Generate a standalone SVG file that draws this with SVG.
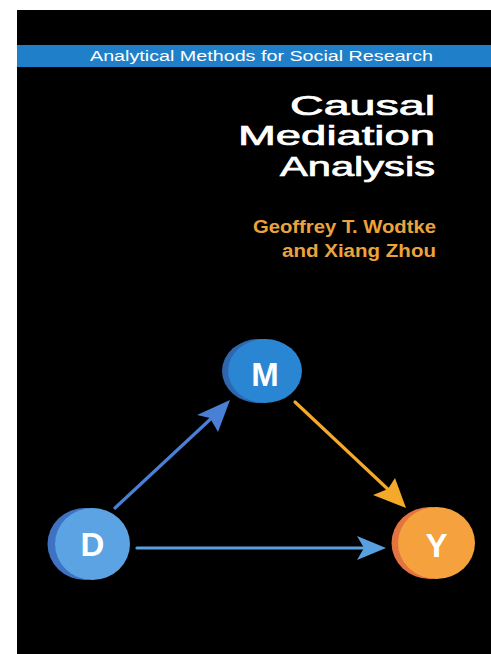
<svg xmlns="http://www.w3.org/2000/svg" width="491" height="654" viewBox="0 0 491 654">
<defs>
<style>
.series{font-family:"Liberation Sans",Arial,sans-serif;font-size:15.5px;fill:#ffffff}
.title{font-family:"Liberation Sans",Arial,sans-serif;font-size:27px;fill:#ffffff;stroke:#ffffff;stroke-width:0.7;text-anchor:end}
.author{font-family:"Liberation Sans",Arial,sans-serif;font-size:18px;font-weight:bold;fill:#eba33c;text-anchor:end}
.lbl{font-family:"Liberation Sans",Arial,sans-serif;font-size:33px;font-weight:bold;fill:#ffffff;text-anchor:middle}
.edge{fill:none;stroke-width:3.2;stroke-linecap:round}
</style>
</defs>
<rect x="0" y="0" width="491" height="654" fill="#ffffff"/>
<rect x="17" y="10" width="474" height="644" fill="#000000"/>
<rect x="17" y="45" width="474" height="22" fill="#1f80c9"/>
<text class="series" x="90" y="61" textLength="343" lengthAdjust="spacingAndGlyphs">Analytical Methods for Social Research</text>
<text class="title" x="435" y="115" textLength="145" lengthAdjust="spacingAndGlyphs">Causal</text>
<text class="title" x="435" y="145" textLength="197" lengthAdjust="spacingAndGlyphs">Mediation</text>
<text class="title" x="435" y="176" textLength="155" lengthAdjust="spacingAndGlyphs">Analysis</text>
<text class="author" x="436" y="233" textLength="183" lengthAdjust="spacingAndGlyphs">Geoffrey T. Wodtke</text>
<text class="author" x="436" y="257" textLength="154" lengthAdjust="spacingAndGlyphs">and Xiang Zhou</text>
<g id="connectors">
<line class="edge" x1="115" y1="508" x2="216" y2="414" stroke="#4a7fd6"/>
<polygon points="230,400 197,415 210,418 218,432" fill="#4a7fd6"/>
<line class="edge" x1="137" y1="548" x2="370" y2="548" stroke="#58a0e0"/>
<polygon points="386,548 357,536 364,548 357,560" fill="#58a0e0"/>
<line class="edge" x1="295" y1="402" x2="393" y2="494" stroke="#f4a92a"/>
<polygon points="406,508 373,495 388,489 395,478" fill="#f4a92a"/>
</g>
<g id="node-M">
<ellipse cx="259" cy="371" rx="37" ry="32" fill="#2f66ad"/>
<ellipse cx="265" cy="371" rx="37" ry="32" fill="#2a86d2"/>
<text class="lbl" x="265" y="386">M</text>
</g>
<g id="node-D">
<ellipse cx="85" cy="544" rx="37.5" ry="36" fill="#3f72c2"/>
<ellipse cx="92.5" cy="544" rx="37.5" ry="36" fill="#5ba3e2"/>
<text class="lbl" x="92.5" y="556">D</text>
</g>
<g id="node-Y">
<ellipse cx="430" cy="543" rx="38.5" ry="36" fill="#e4743f"/>
<ellipse cx="436.5" cy="543" rx="38.5" ry="36" fill="#f5a23e"/>
<text class="lbl" x="436.5" y="557">Y</text>
</g>
</svg>
